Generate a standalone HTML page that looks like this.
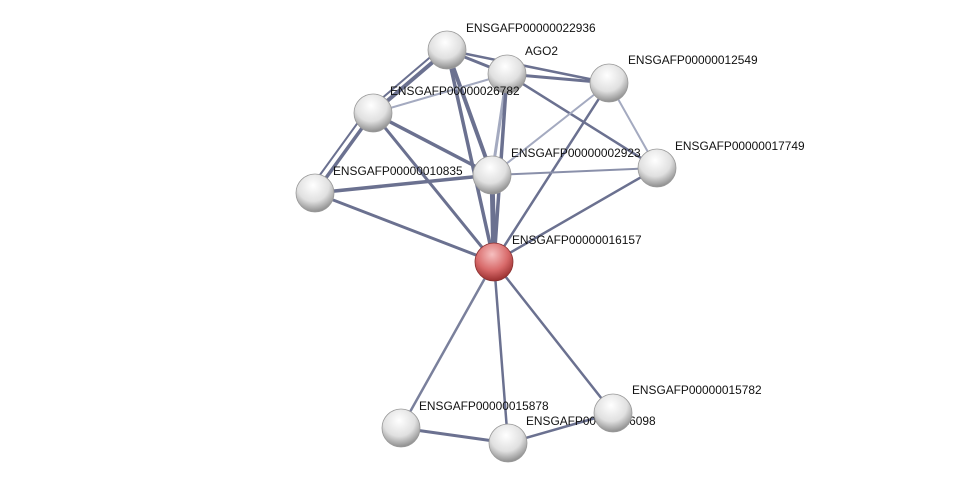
<!DOCTYPE html>
<html><head><style>body{margin:0;background:#fff}svg{display:block}text{font-family:"Liberation Sans",sans-serif;font-size:11.9px;fill:#111}</style></head><body>
<svg width="976" height="489" viewBox="0 0 976 489">
<defs>
<radialGradient id="g" cx="45%" cy="30%" r="70%"><stop offset="0" stop-color="#fff"/><stop offset="0.6" stop-color="#e0e0e0"/><stop offset="1" stop-color="#8e8e8e"/></radialGradient>
<radialGradient id="r" cx="45%" cy="30%" r="70%"><stop offset="0" stop-color="#f6c0c0"/><stop offset="0.6" stop-color="#d86a6a"/><stop offset="1" stop-color="#9a3030"/></radialGradient>
</defs>
<g stroke="#6b7190" stroke-width="3" stroke-linecap="round">
<line x1="447" y1="50" x2="507" y2="74"/><line x1="447" y1="50" x2="609" y2="83" stroke-width="2.5"/>
<line x1="447" y1="50" x2="373" y2="113" stroke-width="4"/><line x1="441" y1="48" x2="367" y2="111" stroke-width="2"/>
<line x1="447" y1="50" x2="492" y2="175" stroke-width="4"/><line x1="447" y1="50" x2="494" y2="262" stroke-width="3.5"/>
<line x1="507" y1="74" x2="609" y2="83"/><line x1="507" y1="74" x2="657" y2="168" stroke-width="2.5"/>
<line x1="507" y1="74" x2="373" y2="113" stroke="#a4aac0" stroke-width="2"/>
<line x1="507" y1="74" x2="492" y2="175" stroke="#a4aac0" stroke-width="3"/><line x1="507" y1="74" x2="494" y2="262" stroke-width="3.5"/>
<line x1="373" y1="113" x2="492" y2="175" stroke-width="3.5"/><line x1="373" y1="113" x2="494" y2="262"/>
<line x1="373" y1="113" x2="315" y2="193" stroke-width="3.5"/><line x1="367" y1="110" x2="309" y2="190" stroke-width="2"/>
<line x1="315" y1="193" x2="492" y2="175" stroke-width="3.5"/><line x1="315" y1="193" x2="494" y2="262"/>
<line x1="609" y1="83" x2="492" y2="175" stroke="#a4aac0" stroke-width="2"/><line x1="609" y1="83" x2="494" y2="262" stroke-width="2.5"/>
<line x1="609" y1="83" x2="657" y2="168" stroke="#a4aac0" stroke-width="2"/>
<line x1="492" y1="175" x2="657" y2="168" stroke="#8a90aa" stroke-width="2"/>
<line x1="492" y1="175" x2="494" y2="262" stroke-width="5"/><line x1="657" y1="168" x2="494" y2="262" stroke-width="2.5"/>
<line x1="494" y1="262" x2="401" y2="428" stroke="#7a809c" stroke-width="2.5"/><line x1="494" y1="262" x2="508" y2="443" stroke-width="2.5"/>
<line x1="494" y1="262" x2="613" y2="413" stroke-width="2.5"/><line x1="401" y1="428" x2="508" y2="443"/>
<line x1="508" y1="443" x2="613" y2="413" stroke-width="2.5"/>
</g>
<text x="526" y="425">ENSGAFP00000016098</text>
<g stroke="#999" stroke-width="0.8">
<circle cx="447" cy="50" r="19" fill="url(#g)"/><circle cx="507" cy="74" r="19" fill="url(#g)"/>
<circle cx="609" cy="83" r="19" fill="url(#g)"/><circle cx="373" cy="113" r="19" fill="url(#g)"/>
<circle cx="492" cy="175" r="19" fill="url(#g)"/><circle cx="657" cy="168" r="19" fill="url(#g)"/>
<circle cx="315" cy="193" r="19" fill="url(#g)"/><circle cx="494" cy="262" r="19" fill="url(#r)" stroke="#8a3030"/>
<circle cx="401" cy="428" r="19" fill="url(#g)"/><circle cx="613" cy="413" r="19" fill="url(#g)"/>
<circle cx="508" cy="443" r="19" fill="url(#g)"/>
</g>
<text x="466" y="32">ENSGAFP00000022936</text>
<text x="525" y="55">AGO2</text>
<text x="628" y="64">ENSGAFP00000012549</text>
<text x="390" y="95">ENSGAFP00000026782</text>
<text x="511" y="157">ENSGAFP00000002923</text>
<text x="675" y="150">ENSGAFP00000017749</text>
<text x="333" y="175">ENSGAFP00000010835</text>
<text x="512" y="244">ENSGAFP00000016157</text>
<text x="419" y="410">ENSGAFP00000015878</text>
<text x="632" y="394">ENSGAFP00000015782</text>
</svg>
</body></html>
